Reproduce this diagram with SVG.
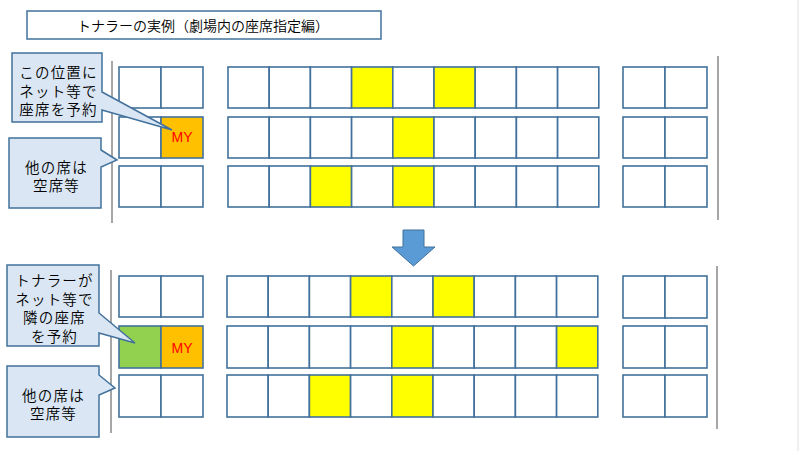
<svg xmlns="http://www.w3.org/2000/svg" width="800" height="451" viewBox="0 0 800 451">
<defs>
<style>
.seat{fill:#ffffff;stroke:#41719c;stroke-width:1.6}
.y{fill:#ffff00}
.o{fill:#ffc000}
.g{fill:#92d050}
.call{fill:#dae6f3;stroke:#41719c;stroke-width:1.5}
.t{font-family:"Noto Sans CJK JP","Noto Sans CJK SC",sans-serif;font-size:14.5px;letter-spacing:1.2px;font-weight:350;fill:#000000;text-anchor:middle}
.my{font-family:"Liberation Sans",Arial,sans-serif;font-size:14px;fill:#ff0000;text-anchor:middle}
.vl{stroke:#a6a6a6;stroke-width:2}
</style>
</defs>
<rect width="800" height="451" fill="#ffffff"/>
<line x1="798" y1="0" x2="798" y2="451" stroke="#e0e0e0" stroke-width="1"/>

<g id="title">
<rect x="27" y="11" width="354" height="28" fill="#ffffff" stroke="#41719c" stroke-width="1.5"/>
<text x="203" y="30.5" class="t" style="font-size:14px;letter-spacing:0px">トナラーの実例（劇場内の座席指定編）</text>
</g>

<g id="dividers">
<line class="vl" x1="112" y1="61" x2="112" y2="223"/>
<line class="vl" x1="718" y1="56" x2="718" y2="220"/>
<line class="vl" x1="111" y1="270" x2="111" y2="433"/>
<line class="vl" x1="717" y1="266" x2="717" y2="429"/>
</g>

<g id="seats-before">
<g id="b-left">
<rect class="seat" x="119" y="67" width="42" height="41"/><rect class="seat" x="161" y="67" width="42" height="41"/>
<rect class="seat" x="119" y="117" width="42" height="41"/><rect class="seat o" x="161" y="117" width="42" height="41"/>
<rect class="seat" x="119" y="166" width="42" height="41"/><rect class="seat" x="161" y="166" width="42" height="41"/>
<text class="my" x="182" y="142">MY</text>
</g>
<g id="b-mid">
<rect class="seat" x="228" y="67" width="41.2" height="41"/><rect class="seat" x="269.2" y="67" width="41.2" height="41"/><rect class="seat" x="310.4" y="67" width="41.2" height="41"/><rect class="seat y" x="351.6" y="67" width="41.2" height="41"/><rect class="seat" x="392.8" y="67" width="41.2" height="41"/><rect class="seat y" x="434" y="67" width="41.2" height="41"/><rect class="seat" x="475.2" y="67" width="41.2" height="41"/><rect class="seat" x="516.4" y="67" width="41.2" height="41"/><rect class="seat" x="557.6" y="67" width="41.2" height="41"/>
<rect class="seat" x="228" y="117" width="41.2" height="41"/><rect class="seat" x="269.2" y="117" width="41.2" height="41"/><rect class="seat" x="310.4" y="117" width="41.2" height="41"/><rect class="seat" x="351.6" y="117" width="41.2" height="41"/><rect class="seat y" x="392.8" y="117" width="41.2" height="41"/><rect class="seat" x="434" y="117" width="41.2" height="41"/><rect class="seat" x="475.2" y="117" width="41.2" height="41"/><rect class="seat" x="516.4" y="117" width="41.2" height="41"/><rect class="seat" x="557.6" y="117" width="41.2" height="41"/>
<rect class="seat" x="228" y="166" width="41.2" height="41"/><rect class="seat" x="269.2" y="166" width="41.2" height="41"/><rect class="seat y" x="310.4" y="166" width="41.2" height="41"/><rect class="seat" x="351.6" y="166" width="41.2" height="41"/><rect class="seat y" x="392.8" y="166" width="41.2" height="41"/><rect class="seat" x="434" y="166" width="41.2" height="41"/><rect class="seat" x="475.2" y="166" width="41.2" height="41"/><rect class="seat" x="516.4" y="166" width="41.2" height="41"/><rect class="seat" x="557.6" y="166" width="41.2" height="41"/>
</g>
<g id="b-right">
<rect class="seat" x="623" y="67" width="42" height="41"/><rect class="seat" x="665" y="67" width="42" height="41"/>
<rect class="seat" x="623" y="117" width="42" height="41"/><rect class="seat" x="665" y="117" width="42" height="41"/>
<rect class="seat" x="623" y="166" width="42" height="41"/><rect class="seat" x="665" y="166" width="42" height="41"/>
</g>
</g>

<g id="arrow">
<path d="M403,230 H424 V247 H435 L413.5,266 L392,247 H403 Z" fill="#5b9bd5" stroke="#41719c" stroke-width="1"/>
</g>

<g id="seats-after">
<g id="a-left">
<rect class="seat" x="119" y="276" width="42" height="41"/><rect class="seat" x="161" y="276" width="42" height="41"/>
<rect class="seat g" x="119" y="326" width="42" height="42"/><rect class="seat o" x="161" y="326" width="42" height="42"/>
<rect class="seat" x="119" y="375" width="42" height="42"/><rect class="seat" x="161" y="375" width="42" height="42"/>
<text class="my" x="182" y="352.5">MY</text>
</g>
<g id="a-mid">
<rect class="seat" x="227" y="276" width="41.2" height="41"/><rect class="seat" x="268.2" y="276" width="41.2" height="41"/><rect class="seat" x="309.4" y="276" width="41.2" height="41"/><rect class="seat y" x="350.6" y="276" width="41.2" height="41"/><rect class="seat" x="391.8" y="276" width="41.2" height="41"/><rect class="seat y" x="433" y="276" width="41.2" height="41"/><rect class="seat" x="474.2" y="276" width="41.2" height="41"/><rect class="seat" x="515.4" y="276" width="41.2" height="41"/><rect class="seat" x="556.6" y="276" width="41.2" height="41"/>
<rect class="seat" x="227" y="326" width="41.2" height="42"/><rect class="seat" x="268.2" y="326" width="41.2" height="42"/><rect class="seat" x="309.4" y="326" width="41.2" height="42"/><rect class="seat" x="350.6" y="326" width="41.2" height="42"/><rect class="seat y" x="391.8" y="326" width="41.2" height="42"/><rect class="seat" x="433" y="326" width="41.2" height="42"/><rect class="seat" x="474.2" y="326" width="41.2" height="42"/><rect class="seat" x="515.4" y="326" width="41.2" height="42"/><rect class="seat y" x="556.6" y="326" width="41.2" height="42"/>
<rect class="seat" x="227" y="375" width="41.2" height="42"/><rect class="seat" x="268.2" y="375" width="41.2" height="42"/><rect class="seat y" x="309.4" y="375" width="41.2" height="42"/><rect class="seat" x="350.6" y="375" width="41.2" height="42"/><rect class="seat y" x="391.8" y="375" width="41.2" height="42"/><rect class="seat" x="433" y="375" width="41.2" height="42"/><rect class="seat" x="474.2" y="375" width="41.2" height="42"/><rect class="seat" x="515.4" y="375" width="41.2" height="42"/><rect class="seat" x="556.6" y="375" width="41.2" height="42"/>
</g>
<g id="a-right">
<rect class="seat" x="623" y="276" width="42" height="42"/><rect class="seat" x="665" y="276" width="42" height="42"/>
<rect class="seat" x="623" y="326" width="42" height="42"/><rect class="seat" x="665" y="326" width="42" height="42"/>
<rect class="seat" x="623" y="375" width="42" height="42"/><rect class="seat" x="665" y="375" width="42" height="42"/>
</g>
</g>

<g id="callout-reserve">
<path class="call" d="M12,53 H102 V92 L172,130 L102,110 V122 H12 Z"/>
<text class="t" x="58.5" y="78"><tspan x="58.5">この位置に</tspan><tspan x="58.5" dy="18.5">ネット等で</tspan><tspan x="58.5" dy="18.5">座席を予約</tspan></text>
</g>
<g id="callout-empty-1">
<path class="call" d="M9,138 H101 V150 L117,160 L101,167 V208 H9 Z"/>
<text class="t" x="56.5" y="173"><tspan x="56.5">他の席は</tspan><tspan x="56.5" dy="18">空席等</tspan></text>
</g>
<g id="callout-tonaraa">
<path class="call" d="M7,265 H99 V313 L135,343 L99,333 V346 H7 Z"/>
<text class="t" x="54.5" y="286"><tspan x="54.5">トナラーが</tspan><tspan x="54.5" dy="18.5">ネット等で</tspan><tspan x="54.5" dy="18.5">隣の座席</tspan><tspan x="54.5" dy="18.5">を予約</tspan></text>
</g>
<g id="callout-empty-2">
<path class="call" d="M7,366 H99 V375 L115,388 L99,395 V437 H7 Z"/>
<text class="t" x="53.5" y="401"><tspan x="53.5">他の席は</tspan><tspan x="53.5" dy="18">空席等</tspan></text>
</g>
</svg>
